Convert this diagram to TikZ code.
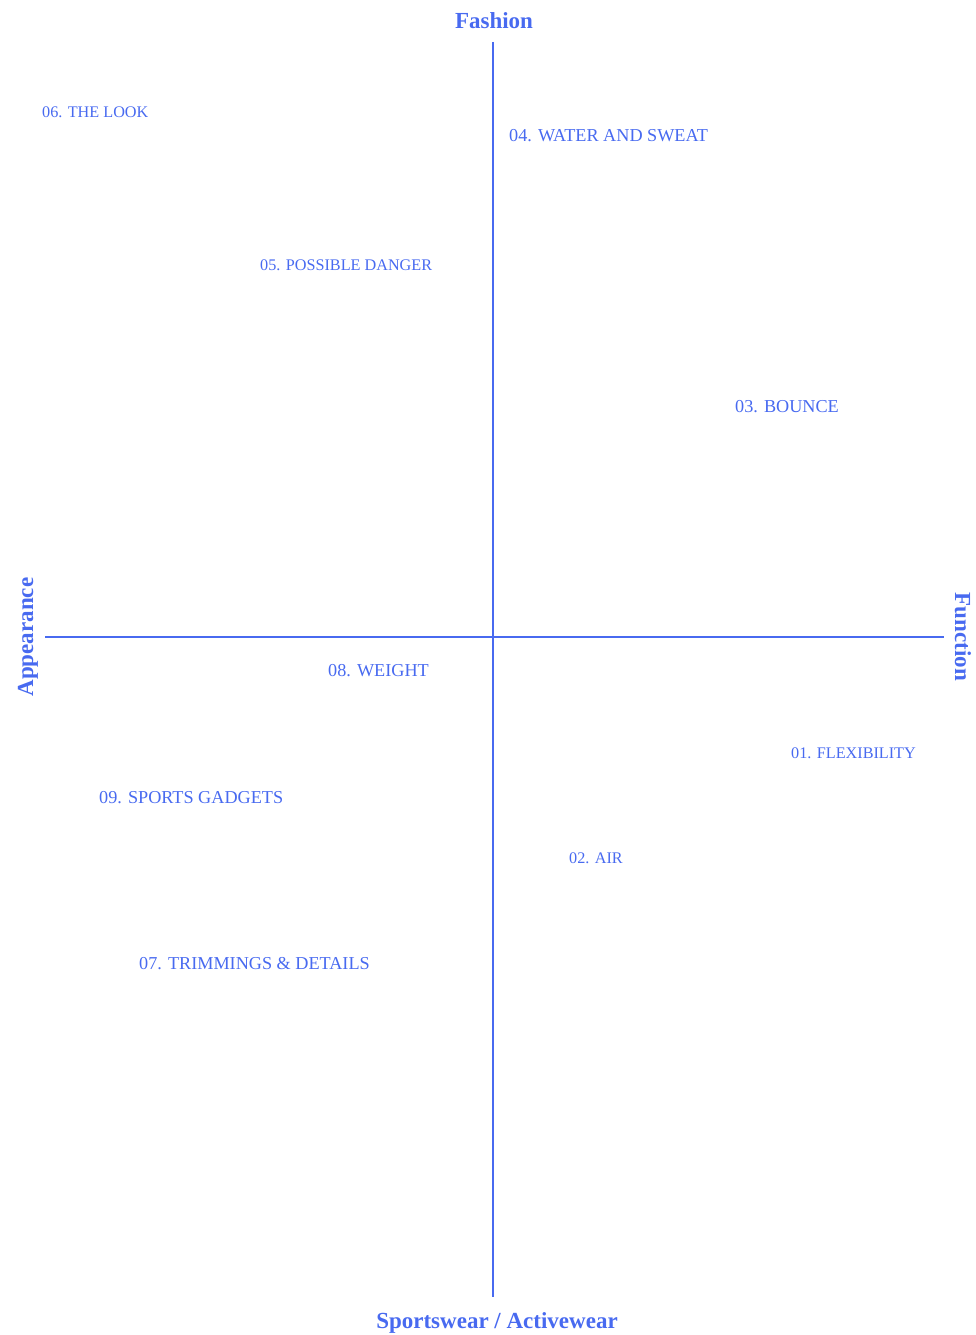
\documentclass[tikz,border=0pt]{standalone}
\usepackage{fontspec}
\setmainfont{Liberation Serif}
\definecolor{axisblue}{RGB}{72,106,240}
\begin{document}
\begin{tikzpicture}[x=1pt,y=-1pt,
  axis/.style={draw=axisblue,line width=1.6pt},
  title/.style={text=axisblue,font=\fontsize{23}{26}\selectfont\bfseries,inner sep=0pt},
  item/.style={text=axisblue,font=\fontsize{16.2}{19}\selectfont,anchor=west,inner sep=0pt},
  bigitem/.style={item,font=\fontsize{18.2}{21}\selectfont}]
\useasboundingbox (0,0) rectangle (976,1335);
\coordinate (top) at (493,42);
\coordinate (bot) at (493,1297);
\coordinate (left) at (45,637);
\coordinate (right) at (944,637);
\draw[axis] (top) -- (bot);
\draw[axis] (left) -- (right);
\node[title] (fashion) at (494,21) {Fashion};
\node[title] (sports) at (497,1323) {Sportswear / Activewear};
\node[title,rotate=90] (appear) at (28,637) {Appearance};
\node[title,rotate=-90] (func) at (963,637) {Function};
\node[item] (n06) at (42,112) {06. THE LOOK};
\node[bigitem] (n04) at (509,136) {04. WATER AND SWEAT};
\node[item] (n05) at (260,265) {05. POSSIBLE DANGER};
\node[bigitem] (n03) at (735,407) {03. BOUNCE};
\node[bigitem] (n08) at (328,671) {08. WEIGHT};
\node[item] (n01) at (791,753) {01. FLEXIBILITY};
\node[bigitem] (n09) at (99,798) {09. SPORTS GADGETS};
\node[item] (n02) at (569,858) {02. AIR};
\node[bigitem] (n07) at (139,964) {07. TRIMMINGS \& DETAILS};
\end{tikzpicture}
\end{document}
